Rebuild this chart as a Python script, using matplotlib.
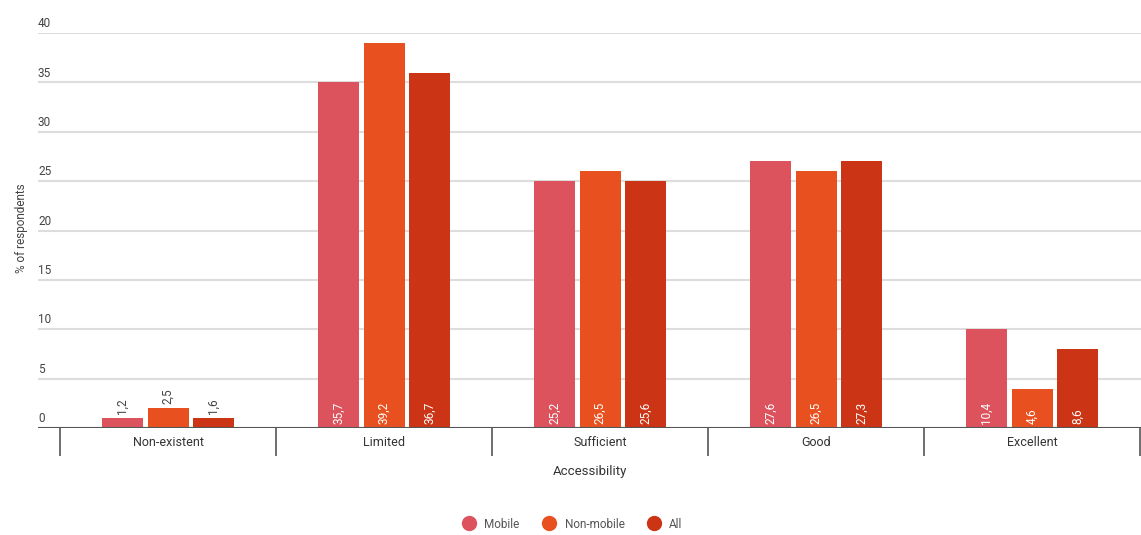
import matplotlib
matplotlib.use("Agg")
import matplotlib.pyplot as plt
from matplotlib.lines import Line2D
import numpy as np

categories = ["Non-existent", "Limited", "Sufficient", "Good", "Excellent"]
series = ["Mobile", "Non-mobile", "All"]
# displayed labels
mobile_labels = ["1,2", "35,7", "25,2", "27,6", "10,4"]
nonmobile_labels = ["2,5", "39,2", "26,5", "26,5", "4,6"]
all_labels = ["1,6", "36,7", "25,6", "27,3", "8,6"]
# drawn bar heights (as they appear in the picture)
mobile = [1, 35, 25, 27, 10]
nonmobile = [2, 39, 26, 26, 4]
all_ = [1, 36, 25, 27, 8]
yticks = [0, 5, 10, 15, 20, 25, 30, 35, 40]

colors = ["#DC535E", "#E8511F", "#CB3414"]

plt.rcParams['font.family'] = ['Roboto', 'DejaVu Sans']

W, H = 1141, 535
fig = plt.figure(figsize=(W / 100, H / 100), dpi=100)
ax_left, ax_right = 38, 1141
y0, y40 = 428, 33
ax = fig.add_axes([ax_left / W, (H - y0) / H, (ax_right - ax_left) / W, (y0 - y40) / H])

x = np.arange(len(categories))
bw = 41 / 216
step = 45.5 / 216
vals = [mobile, nonmobile, all_]
labs = [mobile_labels, nonmobile_labels, all_labels]
for k in range(3):
    xs = x + (k - 1) * step
    bars = ax.bar(xs, vals[k], width=bw, color=colors[k], zorder=3)
    for xi, v, lab in zip(xs, vals[k], labs[k]):
        if v < 3:
            ax.annotate(lab, (xi, v), xytext=(0, 3), textcoords="offset points",
                        rotation=90, ha="center", va="bottom", fontsize=8.5, color="#444444")
        else:
            ax.annotate(lab, (xi, 0), xytext=(0, 3), textcoords="offset points",
                        rotation=90, ha="center", va="bottom", fontsize=8.5, color="white", zorder=4)

pxu = 216
ax.set_xlim(-0.5 - 22 / pxu, 4.5 + 1 / pxu)
ax.set_ylim(0, 40)

for s in ["top", "right", "left", "bottom"]:
    ax.spines[s].set_visible(False)
ax.axhline(0, color="#555555", lw=1.5, zorder=5)
for t in yticks[1:]:
    ax.axhline(t, color="#dddddd", lw=1.5, zorder=1)

ax.set_yticks([])
for t in yticks:
    ax.annotate(str(t), (0, t), xycoords=("axes fraction", "data"), xytext=(0, 2),
                textcoords="offset points", ha="left", va="bottom", fontsize=8.5, color="#444444")

ax.set_xticks(x)
ax.set_xticklabels(categories, fontsize=9, color="#333333")
ax.tick_params(axis="x", which="major", length=0, pad=6)
ax.set_xticks(np.arange(-0.5, 5.0, 1.0), minor=True)
ax.tick_params(axis="x", which="minor", length=20, width=1.2, color="#555555")

fig.text(590 / W, (H - 472) / H, "Accessibility", ha="center", va="center", fontsize=9.5, color="#333333")
fig.text(22 / W, (H - 228) / H, "% of respondents", ha="center", va="center", rotation=90,
         fontsize=8.5, color="#444444")

handles = [Line2D([], [], marker="o", ls="", markersize=10, color=c) for c in colors]
fig.legend(handles, series, loc="center", bbox_to_anchor=(570 / W, (H - 524) / H), ncol=3,
           frameon=False, fontsize=8.5, handletextpad=0.3, columnspacing=1.5, labelcolor="#555555")

fig.savefig("out.png", dpi=100)
